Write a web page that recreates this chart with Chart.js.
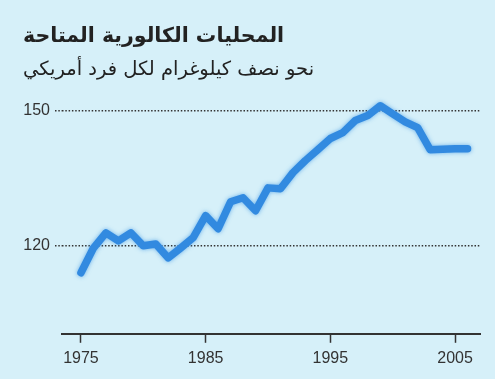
<!DOCTYPE html>
<html>
<head>
<meta charset="utf-8">
<script src="https://cdn.jsdelivr.net/npm/chart.js@4.4.1/dist/chart.umd.min.js"></script>
<style>
  html, body { margin: 0; padding: 0; background: #d6f0f9; }
  #wrap { width: 495px; height: 379px; }
</style>
</head>
<body>
<div id="wrap"><canvas id="c" width="495" height="379"></canvas></div>
<script>
const titleText = 'المحليات الكالورية المتاحة';
const subtitleText = 'نحو نصف كيلوغرام لكل فرد أمريكي';
const years = [1975,1976,1977,1978,1979,1980,1981,1982,1983,1984,1985,1986,1987,1988,1989,1990,1991,1992,1993,1994,1995,1996,1997,1998,1999,2000,2001,2002,2003,2004,2005,2006];
const values = [113.9,119.4,122.8,121.0,122.8,119.9,120.3,117.2,119.4,121.7,126.6,123.7,129.7,130.6,127.7,132.8,132.6,136.2,138.9,141.3,143.8,145.1,147.8,148.9,151.1,149.3,147.5,146.2,141.3,141.4,141.5,141.5];
const xTicks = [1975, 1985, 1995, 2005];
const yTicks = [120, 150];

const lineGlow = {
  id: 'lineGlow',
  beforeDatasetsDraw(chart) {
    const ctx = chart.ctx;
    ctx.save();
    ctx.shadowColor = 'rgba(60,150,230,0.7)';
    ctx.shadowBlur = 4;
  },
  afterDatasetsDraw(chart) { chart.ctx.restore(); }
};

new Chart(document.getElementById('c'), {
  type: 'line',
  data: {
    datasets: [{
      data: years.map((y, i) => ({ x: y, y: values[i] })),
      borderColor: 'rgb(50,138,224)',
      borderWidth: 7.5,
      borderJoinStyle: 'round',
      borderCapStyle: 'round',
      pointRadius: 0,
      tension: 0,
      fill: false
    }]
  },
  options: {
    responsive: false,
    animation: false,
    layout: { padding: { left: 23, right: 15, top: 0, bottom: 5 } },
    plugins: {
      legend: { display: false },
      tooltip: { enabled: false },
      title: {
        display: true, text: titleText, align: 'start', color: '#222',
        font: { family: 'DejaVu Sans', size: 20.5, weight: 'bold', lineHeight: 1.2 },
        padding: { top: 24, bottom: 0 }
      },
      subtitle: {
        display: true, text: subtitleText, align: 'start', color: '#222',
        font: { family: 'DejaVu Sans', size: 19.5, weight: 'normal', lineHeight: 1.2 },
        padding: { top: 10, bottom: 6.2 }
      }
    },
    scales: {
      x: {
        type: 'linear', min: 1973.48, max: 2007.0,
        afterBuildTicks: (s) => { s.ticks = xTicks.map(v => ({ value: v })); },
        ticks: { color: '#333', font: { family: 'Liberation Sans', size: 16 }, padding: 6, maxRotation: 0, callback: (v) => String(v) },
        grid: { drawOnChartArea: false, drawTicks: true, tickLength: 9, tickColor: '#333', tickWidth: 1.5 },
        border: { display: true, color: '#333', width: 2 }
      },
      y: {
        min: 100.3, max: 155,
        afterBuildTicks: (s) => { s.ticks = yTicks.map(v => ({ value: v })); },
        afterFit: (s) => { s.width = 39; },
        ticks: { color: '#333', font: { family: 'Liberation Sans', size: 16 }, padding: 5 },
        grid: { color: '#333', lineWidth: 1.5, drawTicks: true, tickLength: 7, tickBorderDash: [1.5, 1.8], tickColor: '#333', tickWidth: 1.5 },
        border: { display: false, dash: [1.5, 1.8] }
      }
    }
  },
  plugins: [lineGlow]
});
</script>
</body>
</html>
